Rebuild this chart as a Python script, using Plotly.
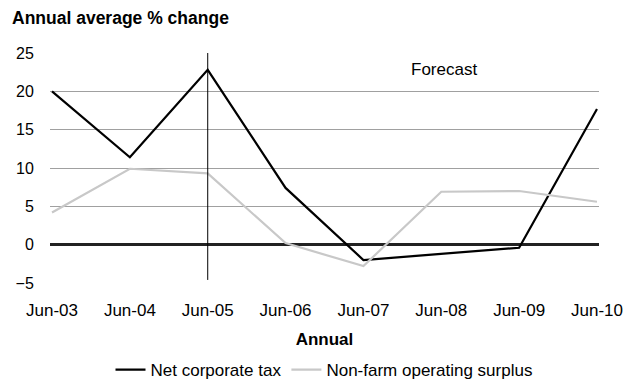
import plotly.graph_objects as go

# Financial years (June) shown on the category axis
years = ["Jun-03", "Jun-04", "Jun-05", "Jun-06", "Jun-07", "Jun-08", "Jun-09", "Jun-10"]

# Annual average % change
net_corporate_tax = [20.0, 11.4, 22.8, 7.4, -2.0, -1.2, -0.4, 17.7]
non_farm_surplus = [4.2, 9.9, 9.3, 0.2, -2.8, 6.9, 7.0, 5.6]

y_ticks = [-5, 0, 5, 10, 15, 20, 25]
forecast_from = 2  # index of Jun-05, start of forecast period

font = "Liberation Sans, Arial, sans-serif"
x_pos = list(range(len(years)))

W, H = 630, 381
M_L, M_R, M_T, M_B = 50, 31, 53, 98
plot_w = W - M_L - M_R
plot_h = H - M_T - M_B

fig = go.Figure()
fig.add_trace(go.Scatter(
    x=x_pos, y=net_corporate_tax, mode="lines", name="Net corporate tax",
    line=dict(color="#000000", width=2.2),
))
fig.add_trace(go.Scatter(
    x=x_pos, y=non_farm_surplus, mode="lines", name="Non-farm operating surplus",
    line=dict(color="#c8c8c8", width=2.2),
))

# Vertical divider marking the start of the forecast
fig.add_shape(type="line", xref="x", yref="y",
              x0=forecast_from, x1=forecast_from, y0=-4.6, y1=25,
              line=dict(color="#000000", width=1))

fig.add_annotation(x=5.03, y=22.8, xref="x", yref="y", text="Forecast",
                   showarrow=False, font=dict(family=font, size=17, color="#000000"))

# Chart title, placed in page pixels
fig.add_annotation(x=(10 - M_L) / plot_w, y=(H - M_B - 18) / plot_h,
                   xref="paper", yref="paper", xanchor="left", yanchor="middle",
                   text="<b>Annual average % change</b>", showarrow=False,
                   font=dict(family=font, size=17.5, color="#000000"))

fig.update_layout(
    width=W, height=H,
    margin=dict(l=M_L, r=M_R, t=M_T, b=M_B, autoexpand=False),
    paper_bgcolor="white", plot_bgcolor="white",
    font=dict(family=font, size=17, color="#000000"),
    showlegend=True,
    legend=dict(orientation="h", x=324 / W, xanchor="center", xref="container",
                y=(H - 370) / H, yanchor="middle", yref="container",
                font=dict(family=font, size=17), itemwidth=30, tracegroupgap=0,
                bgcolor="rgba(0,0,0,0)"),
    xaxis=dict(
        range=[-0.026, 7.026], tickvals=x_pos, ticktext=years,
        showgrid=False, zeroline=False, showline=False,
        ticks="outside", ticklen=12, tickcolor="rgba(0,0,0,0)",
        tickfont=dict(family=font, size=17),
        title=dict(text="<b>Annual</b>", font=dict(family=font, size=17), standoff=13),
    ),
    yaxis=dict(
        range=[-5, 25], tickvals=y_ticks, showgrid=True, gridcolor="#a0a0a0", gridwidth=1,
        zeroline=True, zerolinecolor="#222222", zerolinewidth=2.5,
        showline=False, ticks="outside", ticklen=12, tickcolor="rgba(0,0,0,0)",
        tickfont=dict(family=font, size=16),
    ),
)

fig.write_html("out.html")
